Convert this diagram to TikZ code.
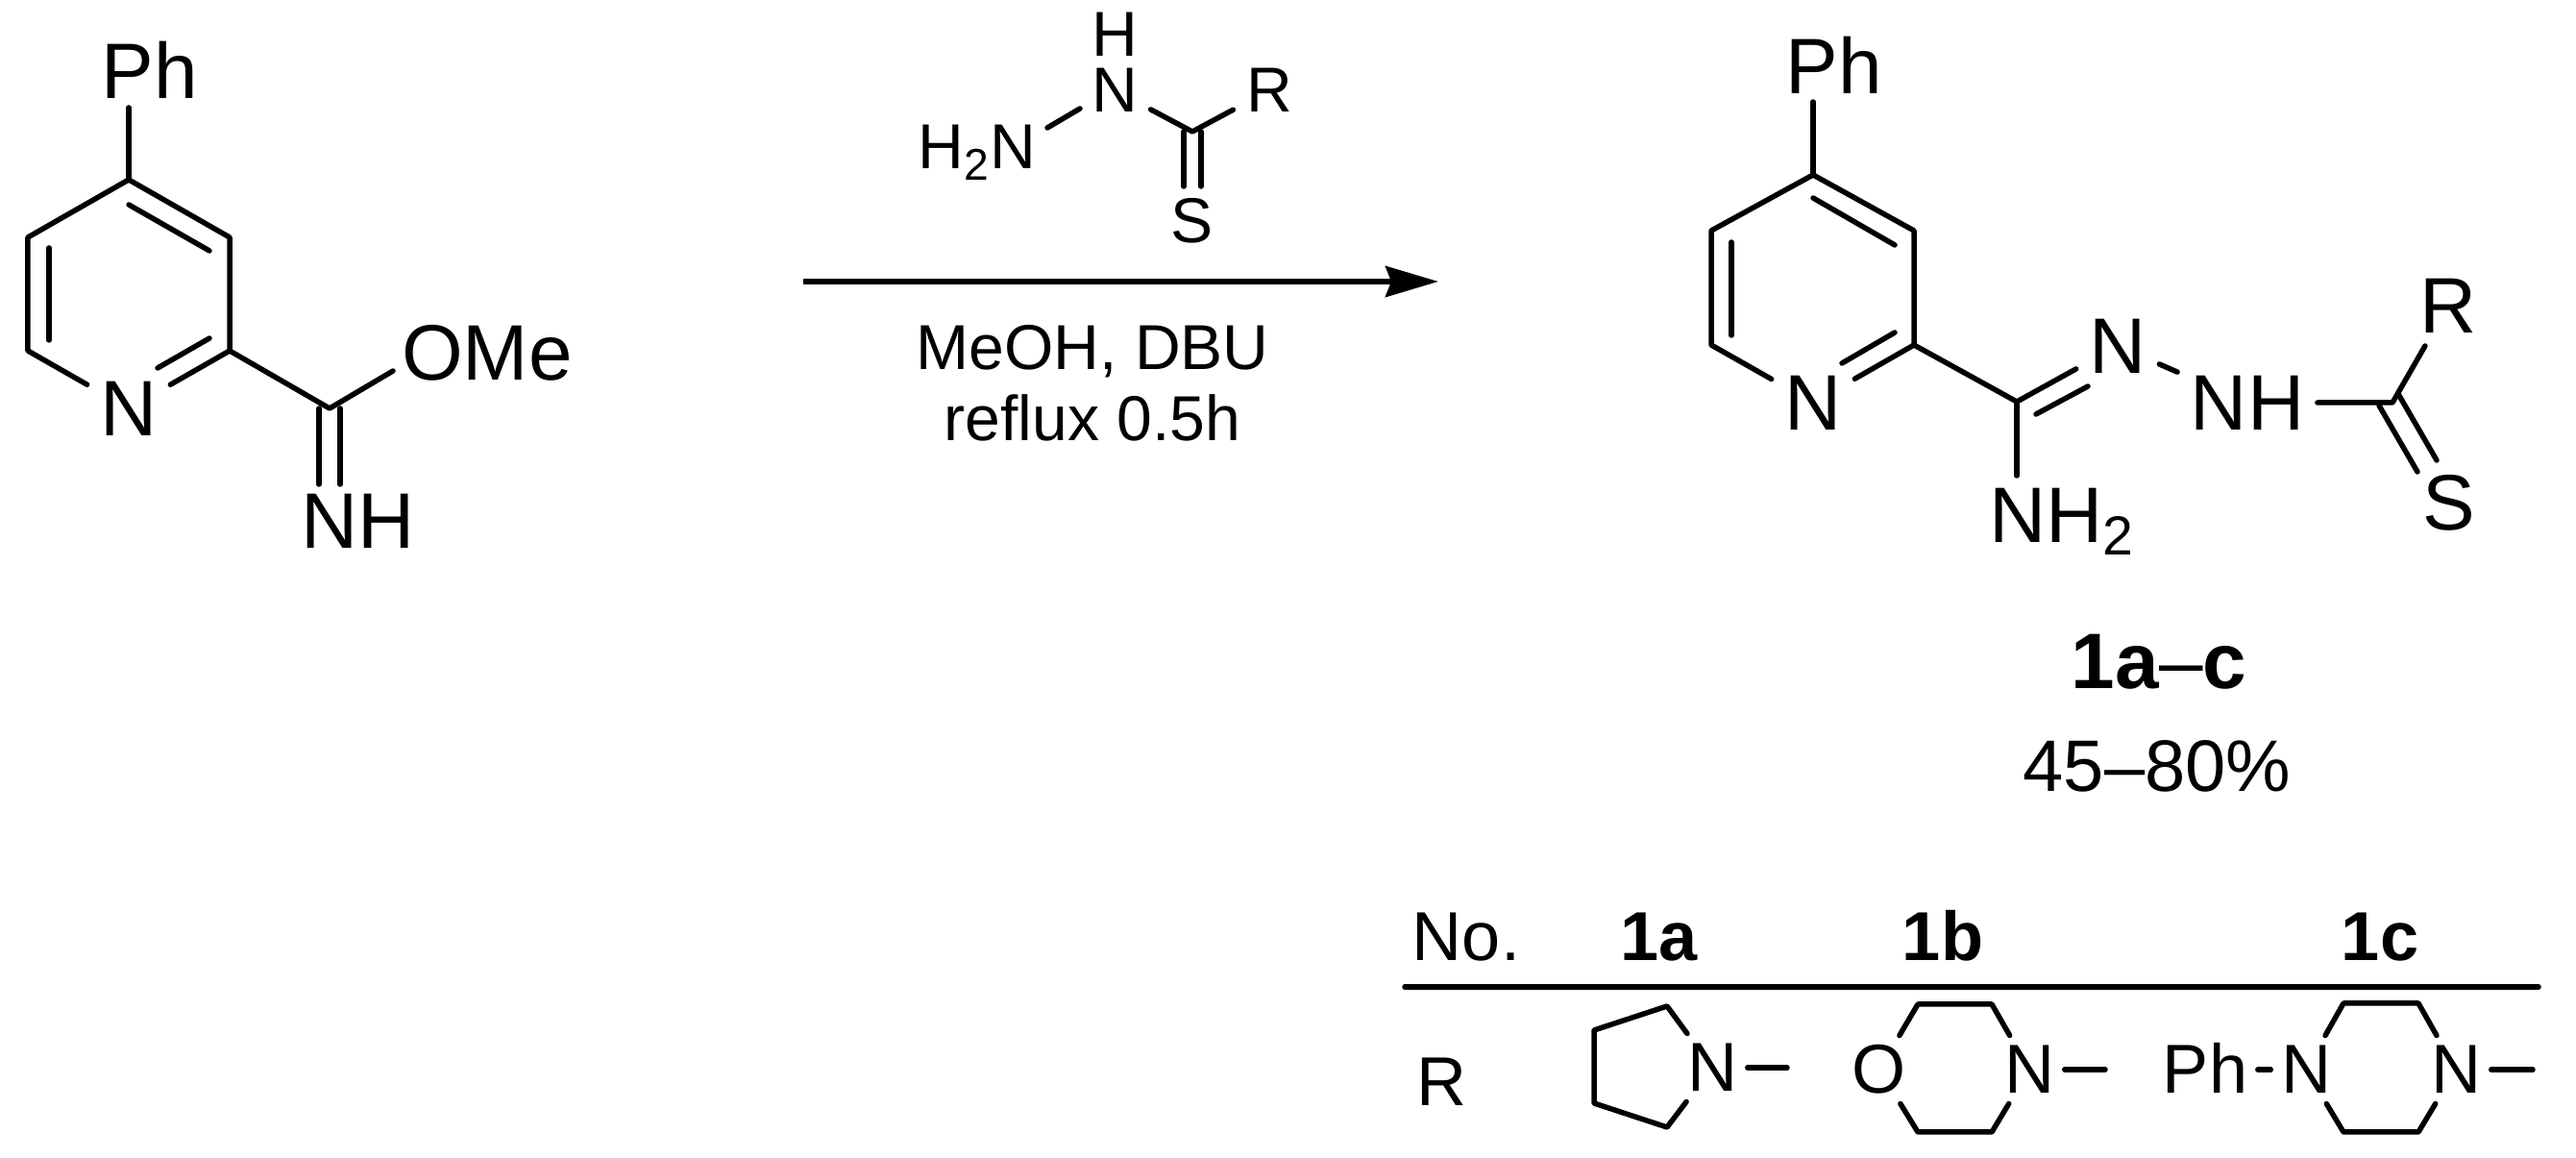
\documentclass[tikz,border=0pt]{standalone}
\usepackage{fontspec}
\setmainfont{Liberation Sans}
\usetikzlibrary{positioning}
\usetikzlibrary{arrows.meta}

\tikzset{
    atom/.style={font=\fontsize{23.3}{28}\selectfont, inner sep=0.11cm, text height=0.564cm, text depth=0pt},
    atomsm/.style={font=\fontsize{18.8}{22}\selectfont, inner sep=0.11cm, text height=0.454cm, text depth=0pt},
    atomtab/.style={font=\fontsize{20.5}{24}\selectfont, inner sep=0.08cm, text height=0.495cm, text depth=0pt},
}

\begin{document}
\begin{tikzpicture}[on grid, line width=0.055cm, line cap=round, line join=round]
    \useasboundingbox (0,0) rectangle (26.81,-12.05);
    % I  reactant
    \coordinate (lc4) at (1.34,-1.87);
    \coordinate[below right=0.60cm and 1.05cm of lc4](lc3);
    \coordinate[below=1.18cm of lc3](lc2);
    \coordinate[below left=0.60cm and 1.05cm of lc4](lc5);
    \coordinate[below=1.18cm of lc5](lc6);
    \node[atom, below right=0.60cm and 1.05cm of lc6, anchor=center](ln) {N};
    \node[atom, above right=1.13cm and 0.22cm of lc4, anchor=center](lph) {Ph};
    \coordinate[above=0.75cm of lc4](lphb);
    \coordinate[below right=0.60cm and 1.04cm of lc2](lc7);
    \node[atom, above right=0.58cm and 1.64cm of lc7, anchor=center](lome) {OMe};
    \coordinate[above right=0.39cm and 0.66cm of lc7](lomeb);
    \node[atom, below right=1.17cm and 0.30cm of lc7, anchor=center](lnh) {NH};
    \coordinate[left=0.11cm of lc7](ld1);
    \coordinate[below=0.79cm of ld1](ld2);
    \coordinate[right=0.11cm of lc7](ld3);
    \coordinate[below=0.79cm of ld3](ld4);
    \coordinate[below=0.26cm of lc4](li1);
    \coordinate[below right=0.48cm and 0.84cm of li1](li2);
    \coordinate[below right=0.11cm and 0.22cm of lc5](li3);
    \coordinate[below=0.96cm of li3](li4);
    \coordinate[above left=0.13cm and 0.21cm of lc2](li5);
    \coordinate[below left=0.31cm and 0.54cm of li5](li6);
    \draw (lc4) -- (lc3) -- (lc2) -- (ln);
    \draw (ln) -- (lc6) -- (lc5) -- (lc4);
    \draw (lc4) -- (lphb);
    \draw (lc2) -- (lc7) -- (lomeb);
    \draw (ld1) -- (ld2);
    \draw (ld3) -- (ld4);
    \draw (li1) -- (li2);
    \draw (li3) -- (li4);
    \draw (li5) -- (li6);
    % II  reagent and arrow
    \coordinate (mc) at (12.41,-1.37);
    \node[atomsm, above left=0.43cm and 0.81cm of mc, anchor=center](mn) {N};
    \node[atomsm, inner sep=0pt, above=0.58cm of mn](mh) {H};
    \node[atomsm, below left=0.16cm and 2.24cm of mc, anchor=center](mhn) {H\textsubscript{2}N};
    \node[atomsm, above right=0.43cm and 0.80cm of mc, anchor=center](mr) {R};
    \node[atomsm, below=0.93cm of mc, anchor=center](ms) {S};
    \coordinate[below left=0.19cm and 0.36cm of mn](mb1);
    \coordinate[below left=0.39cm and 0.70cm of mn](mb2);
    \coordinate[left=0.09cm of mc](md1);
    \coordinate[below=0.57cm of md1](md2);
    \coordinate[right=0.09cm of mc](md3);
    \coordinate[below=0.57cm of md3](md4);
    \draw (mn) -- (mc) -- (mr);
    \draw (mb1) -- (mb2);
    \draw (md1) -- (md2);
    \draw (md3) -- (md4);
    \coordinate (arrowc) at (11.37,-2.93);
    \coordinate[left=3.01cm of arrowc](arrowa);
    \coordinate[right=3.60cm of arrowc](arrowb);
    \draw[line cap=butt, line width=0.06cm, -{Stealth[length=0.55cm, width=0.32cm, inset=0.06cm]}] (arrowa) -- (arrowb);
    \node[atomsm, below=0.685cm of arrowc, anchor=center](meoh) {MeOH, DBU};
    \node[atomsm, below=0.745cm of meoh](reflux) {reflux 0.5h};
    % III  product
    \coordinate (rc4) at (18.87,-1.82);
    \coordinate[below right=0.58cm and 1.05cm of rc4](rc3);
    \coordinate[below=1.19cm of rc3](rc2);
    \coordinate[below left=0.58cm and 1.06cm of rc4](rc5);
    \coordinate[below=1.19cm of rc5](rc6);
    \node[atom, below right=0.60cm and 1.06cm of rc6, anchor=center](rn) {N};
    \node[atom, above right=1.13cm and 0.22cm of rc4, anchor=center](rph) {Ph};
    \coordinate[above=0.76cm of rc4](rphb);
    \coordinate[below right=0.59cm and 1.07cm of rc2](rc7);
    \node[atom, above right=0.58cm and 1.05cm of rc7, anchor=center](rn2) {N};
    \node[atom, below right=1.18cm and 0.47cm of rc7, anchor=center](rnh2) {NH\textsubscript{2}};
    \coordinate[below=0.77cm of rc7](rnh2b);
    \node[atom, below right=0.59cm and 1.35cm of rn2](rnh) {NH};
    \coordinate[right=1.51cm of rnh](rc8);
    \node[atom, above right=1.01cm and 0.58cm of rc8, anchor=center](rr) {R};
    \node[atom, below right=1.04cm and 0.59cm of rc8, anchor=center](rs) {S};
    \coordinate[below left=0.03cm and 0.14cm of rc8](rd1);
    \coordinate[below right=0.69cm and 0.40cm of rd1](rd2);
    \coordinate[above right=0.09cm and 0.06cm of rc8](rd3);
    \coordinate[below right=0.69cm and 0.40cm of rd3](rd4);
    \coordinate[below=0.24cm of rc4](ri1);
    \coordinate[below right=0.49cm and 0.85cm of ri1](ri2);
    \coordinate[below right=0.12cm and 0.21cm of rc5](ri3);
    \coordinate[below=0.97cm of ri3](ri4);
    \coordinate[above left=0.13cm and 0.20cm of rc2](ri5);
    \coordinate[below left=0.32cm and 0.55cm of ri5](ri6);
    \coordinate[below right=0.13cm and 0.20cm of rc7](ri7);
    \coordinate[above right=0.29cm and 0.54cm of ri7](ri8);
    \draw (rc4) -- (rc3) -- (rc2) -- (rn);
    \draw (rn) -- (rc6) -- (rc5) -- (rc4);
    \draw (rc4) -- (rphb);
    \draw (rc2) -- (rc7) -- (rn2);
    \draw (rc7) -- (rnh2b);
    \draw (rn2) -- (rnh);
    \draw (rnh) -- (rc8) -- (rr);
    \draw (rd1) -- (rd2);
    \draw (rd3) -- (rd4);
    \draw (ri1) -- (ri2);
    \draw (ri3) -- (ri4);
    \draw (ri5) -- (ri6);
    \draw (ri7) -- (ri8);
    \node[atom, below right=2.70cm and 1.48cm of rc7, anchor=center](comp) {\textbf{1a}–\textbf{c}};
    \node[atom, font=\fontsize{21.6}{26}\selectfont, below left=1.07cm and 0.02cm of comp](yield) {45–80\%};
    % IV  table
    \node[atomtab] (tabno) at (15.26,-9.75) {No.};
    \node[atomtab, right=2.01cm of tabno](taba) {\textbf{1a}};
    \node[atomtab, right=2.95cm of taba](tabb) {\textbf{1b}};
    \node[atomtab, right=4.55cm of tabb](tabc) {\textbf{1c}};
    \coordinate (tabl) at (14.62,-10.27);
    \coordinate[right=11.80cm of tabl](tabr);
    \draw (tabl) -- (tabr);
    \node[atomtab, below left=1.51cm and 0.25cm of tabno](rowr) {R};
    % pyrrolidine
    \node[atomtab, above right=0.15cm and 2.81cm of rowr](pyn) {N};
    \coordinate[above left=0.64cm and 0.47cm of pyn](py1);
    \coordinate[below left=0.25cm and 0.76cm of py1](py2);
    \coordinate[below=0.76cm of py2](py3);
    \coordinate[below right=0.25cm and 0.76cm of py3](py4);
    \coordinate[right=0.78cm of pyn](pye);
    \draw (pyn) -- (py1) -- (py2) -- (py3) -- (py4) -- (pyn);
    \draw (pyn) -- (pye);
    % morpholine
    \node[atomtab, below right=0.02cm and 1.74cm of pyn](moo) {O};
    \node[atomtab, right=1.56cm of moo](mon) {N};
    \coordinate[above right=0.68cm and 0.40cm of moo](mo1);
    \coordinate[right=0.77cm of mo1](mo2);
    \coordinate[below right=0.65cm and 0.40cm of moo](mo3);
    \coordinate[right=0.77cm of mo3](mo4);
    \coordinate[right=0.79cm of mon](moe);
    \draw (moo) -- (mo1) -- (mo2) -- (mon);
    \draw (moo) -- (mo3) -- (mo4) -- (mon);
    \draw (mon) -- (moe);
    % piperazine
    \node[atomtab, right=1.83cm of mon](pipph) {Ph};
    \node[atomtab, right=1.05cm of pipph](pipn) {N};
    \node[atomtab, right=1.56cm of pipn](pipm) {N};
    \coordinate[above right=0.69cm and 0.39cm of pipn](pip1);
    \coordinate[right=0.78cm of pip1](pip2);
    \coordinate[below right=0.65cm and 0.39cm of pipn](pip3);
    \coordinate[right=0.78cm of pip3](pip4);
    \coordinate[right=0.80cm of pipm](pipe);
    \draw (pipph) -- (pipn);
    \draw (pipn) -- (pip1) -- (pip2) -- (pipm);
    \draw (pipn) -- (pip3) -- (pip4) -- (pipm);
    \draw (pipm) -- (pipe);
\end{tikzpicture}
\end{document}
